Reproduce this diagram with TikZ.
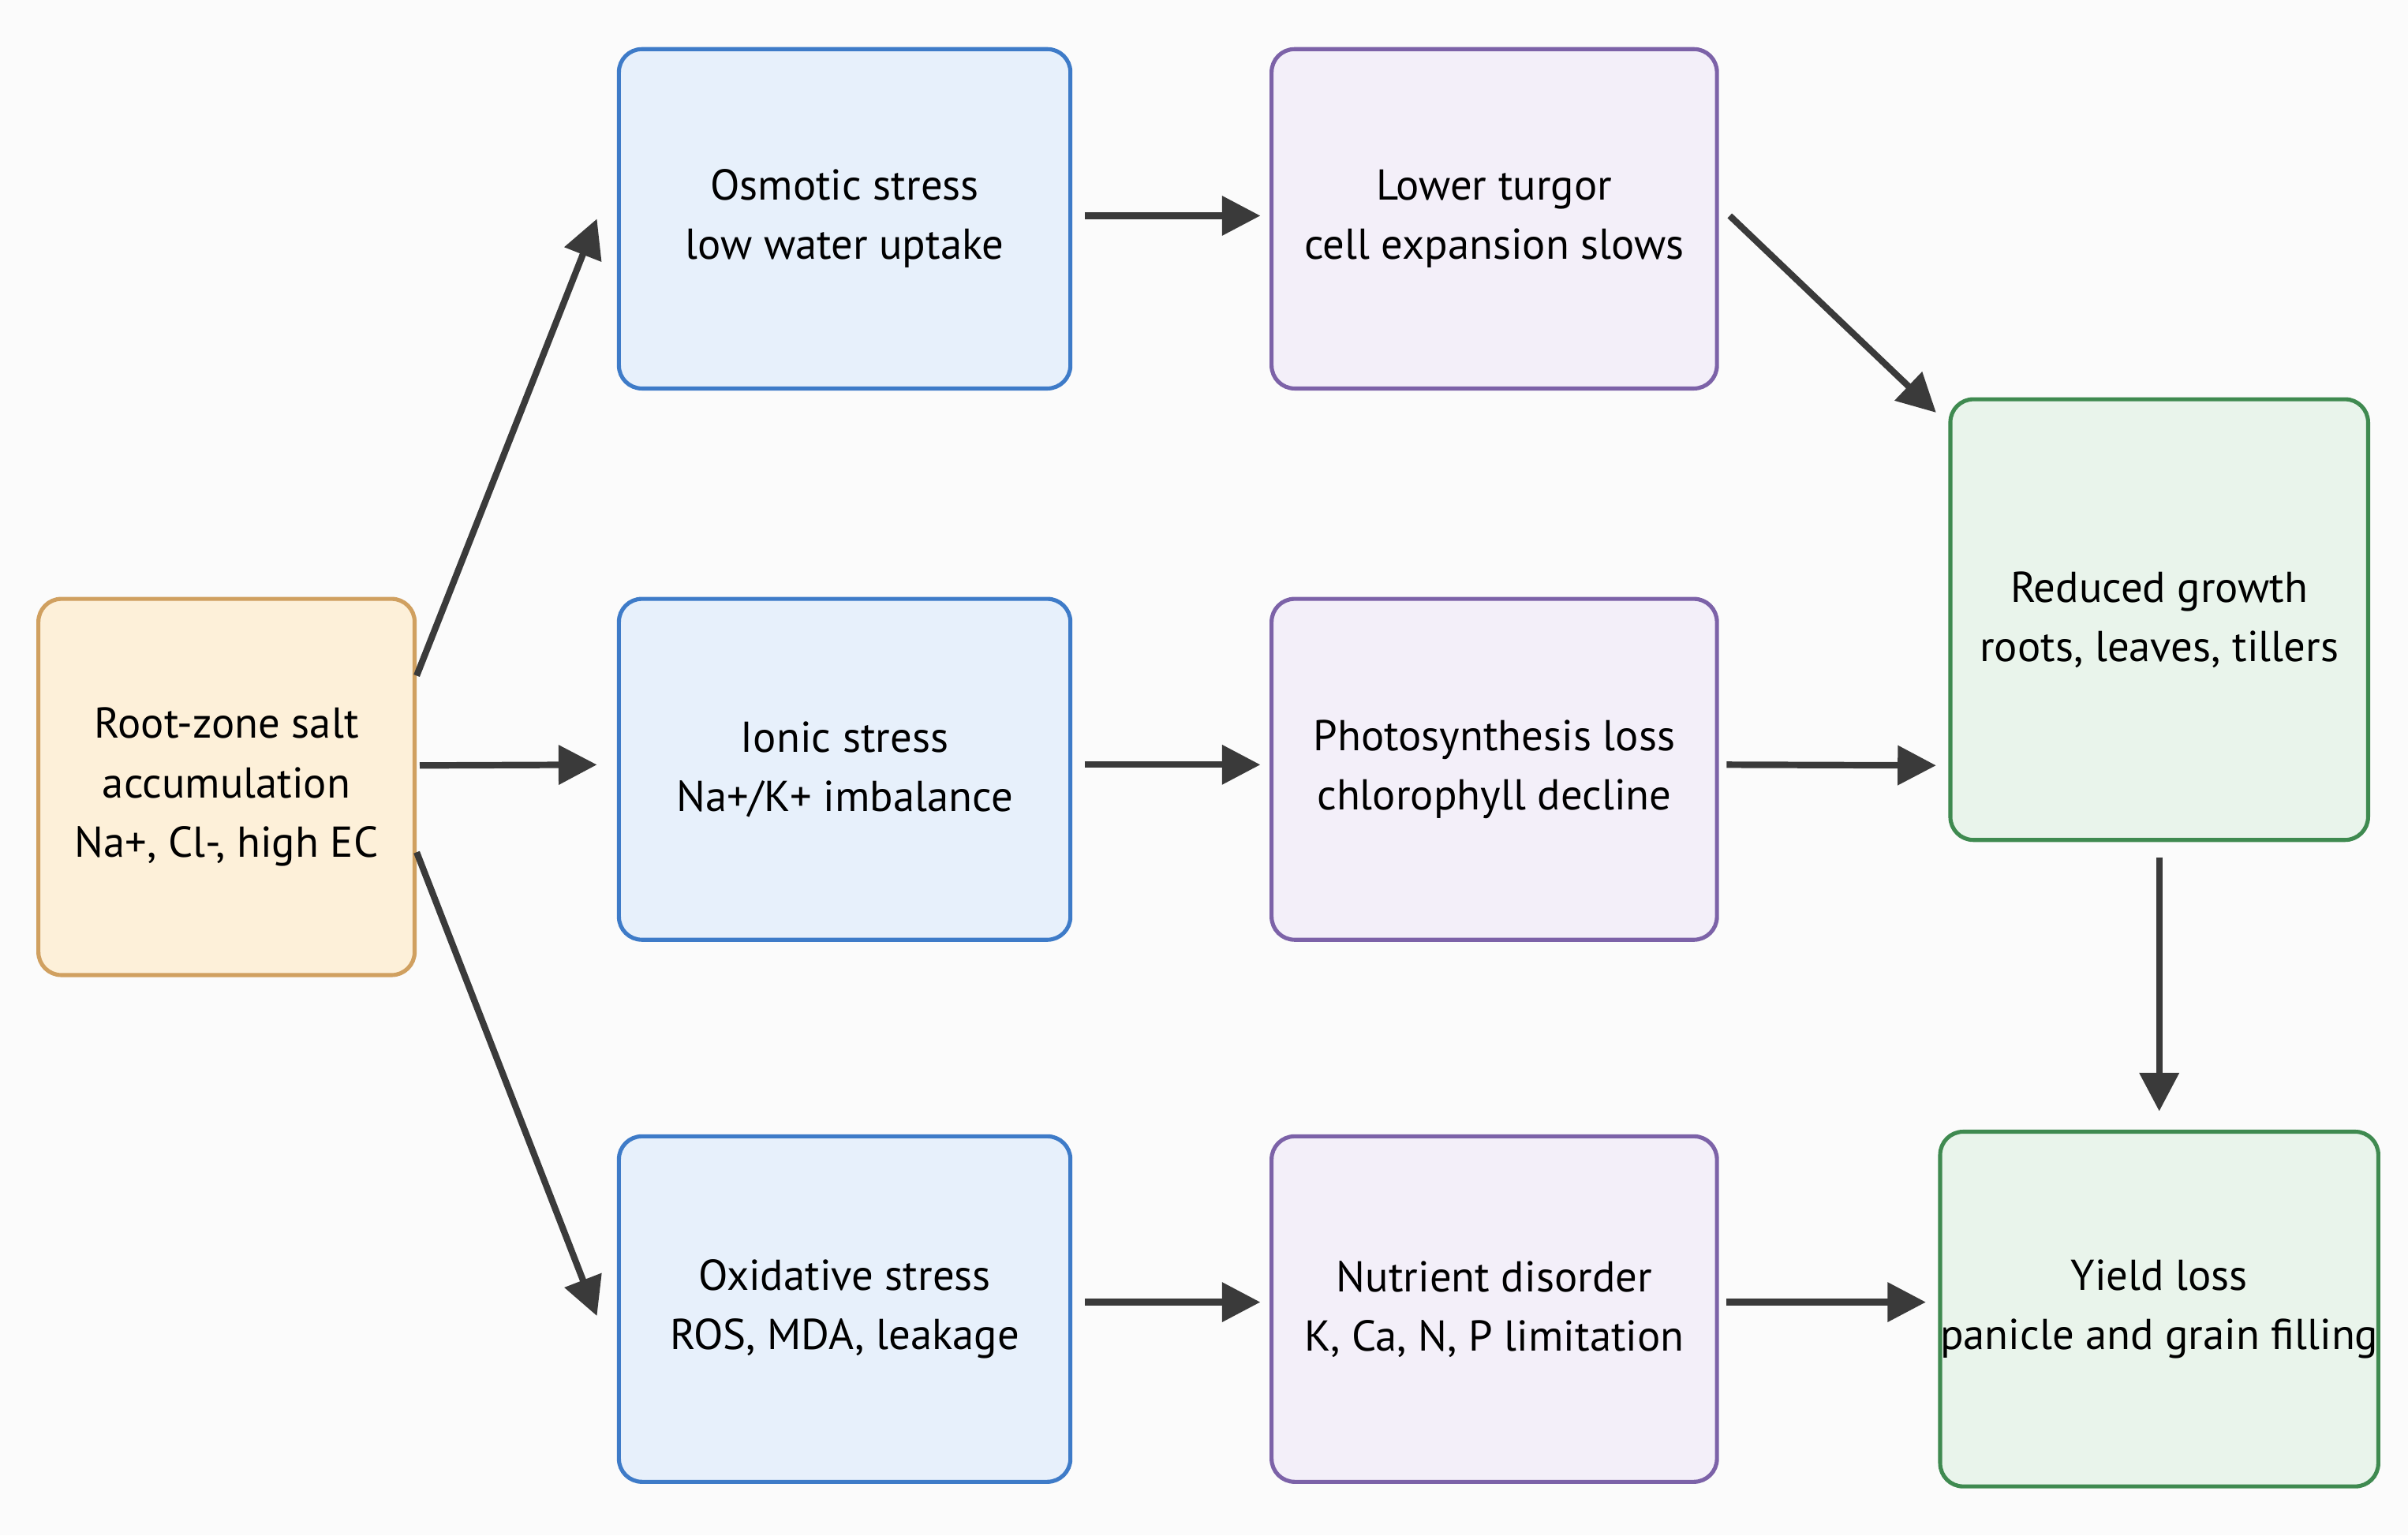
\documentclass[tikz,border=0pt]{standalone}
\usepackage{fontspec}
\setmainfont{PT Sans}
\usetikzlibrary{arrows.meta}
\definecolor{bgc}{HTML}{FBFBFB}
\definecolor{ofill}{HTML}{FDF0D9}\definecolor{oline}{HTML}{D0A060}
\definecolor{bfill}{HTML}{E7F0FB}\definecolor{bline}{HTML}{3E7BC8}
\definecolor{pfill}{HTML}{F3EFF9}\definecolor{pline}{HTML}{7C62A8}
\definecolor{gfill}{HTML}{E9F4EB}\definecolor{gline}{HTML}{3F8A50}
\definecolor{arr}{HTML}{3A3A3A}
\tikzset{
 box/.style={draw, line width=1.5pt, rounded corners=0.3cm, align=center, font=\fontsize{16}{22}\selectfont, inner sep=0pt},
 org/.style={box, fill=ofill, draw=oline},
 blu/.style={box, fill=bfill, draw=bline},
 pur/.style={box, fill=pfill, draw=pline},
 grn/.style={box, fill=gfill, draw=gline},
 ar/.style={draw=arr, line width=2.4pt, -{Triangle[length=0.5cm,width=0.5cm]}}
}
\begin{document}
\begin{tikzpicture}[x=0.02cm,y=-0.02cm]
\fill[bgc] (0,0) rectangle (1568,1000);
\useasboundingbox (0,0) rectangle (1568,1000);
\node[org, minimum width=245*0.02cm, minimum height=245*0.02cm] (root) at (147.5,512.5) {Root-zone salt\\accumulation\\Na+, Cl-, high EC};
\node[blu, minimum width=294*0.02cm, minimum height=221*0.02cm] (osm) at (550,142.5) {Osmotic stress\\low water uptake};
\node[blu, minimum width=294*0.02cm, minimum height=222*0.02cm] (ion) at (550,501) {Ionic stress\\Na+/K+ imbalance};
\node[blu, minimum width=294*0.02cm, minimum height=225*0.02cm] (oxi) at (550,852.5) {Oxidative stress\\ROS, MDA, leakage};
\node[pur, minimum width=290*0.02cm, minimum height=221*0.02cm] (tur) at (973,142.5) {Lower turgor\\cell expansion slows};
\node[pur, minimum width=290*0.02cm, minimum height=222*0.02cm] (pho) at (973,501) {Photosynthesis loss\\chlorophyll decline};
\node[pur, minimum width=290*0.02cm, minimum height=225*0.02cm] (nut) at (973,852.5) {Nutrient disorder\\K, Ca, N, P limitation};
\node[grn, minimum width=272*0.02cm, minimum height=287*0.02cm] (red) at (1406,403.5) {Reduced growth\\roots, leaves, tillers};
\node[grn, minimum width=272*0.02cm, minimum height=231*0.02cm] (yld) at (1406,852.5) {Yield loss\\panicle and grain filling};
\draw[ar] ([yshift=1.45cm]root.east) -- ([xshift=-0.26cm]osm.west);
\draw[ar] ([xshift=0.04cm,yshift=0.28cm]root.east) -- ([xshift=-0.26cm,yshift=0.06cm]ion.west);
\draw[ar] ([yshift=-0.85cm]root.east) -- ([xshift=-0.26cm,yshift=-0.09cm]oxi.west);
\draw[ar] ([xshift=0.16cm,yshift=0.04cm]osm.east) -- ([xshift=-0.12cm,yshift=0.04cm]tur.west);
\draw[ar] ([xshift=0.16cm,yshift=0.06cm]ion.east) -- ([xshift=-0.12cm,yshift=0.06cm]pho.west);
\draw[ar] ([xshift=0.16cm,yshift=0.09cm]oxi.east) -- ([xshift=-0.12cm,yshift=0.09cm]nut.west);
\draw[ar] ([xshift=0.14cm,yshift=0.04cm]tur.east) -- ([xshift=-0.16cm,yshift=-0.2cm]red.north west);
\draw[ar] ([xshift=0.1cm,yshift=0.06cm]pho.east) -- ([xshift=-0.16cm,yshift=-1.9cm]red.west);
\draw[ar] ([xshift=0.1cm,yshift=0.09cm]nut.east) -- ([xshift=-0.16cm,yshift=0.09cm]yld.west);
\draw[ar] ([yshift=-0.2cm]red.south) -- ([yshift=0.24cm]yld.north);
\end{tikzpicture}
\end{document}
